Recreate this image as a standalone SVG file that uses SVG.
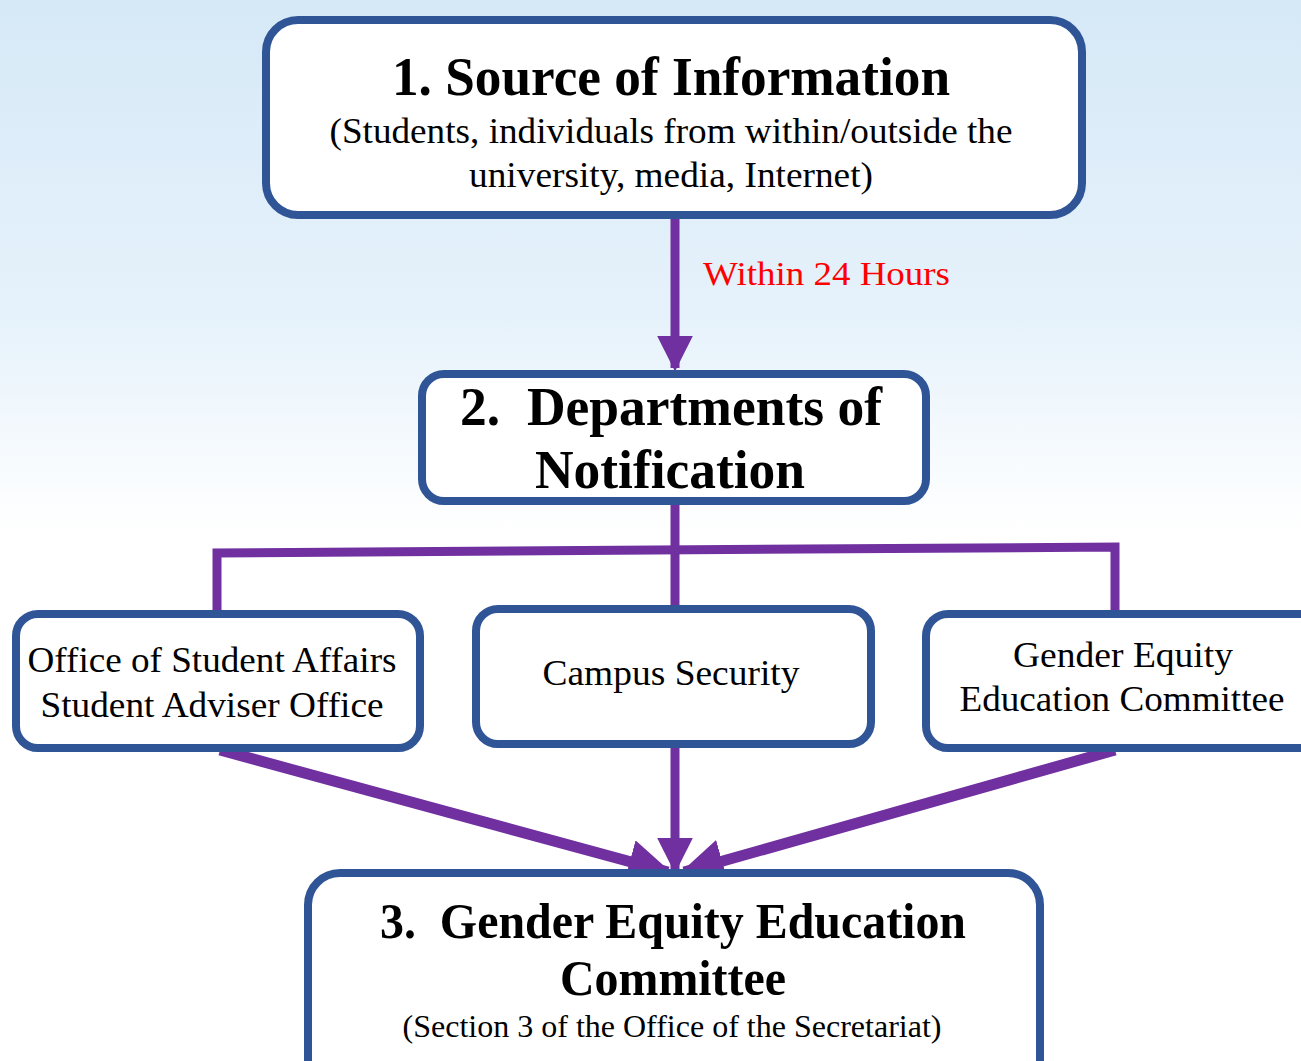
<svg xmlns="http://www.w3.org/2000/svg" width="1301" height="1061" viewBox="0 0 1301 1061">
<defs>
<linearGradient id="bg" x1="0" y1="0" x2="0" y2="1">
<stop offset="0" stop-color="#d6e9f7"/>
<stop offset="0.3" stop-color="#e6f2fb"/>
<stop offset="0.5" stop-color="#ffffff"/>
<stop offset="1" stop-color="#ffffff"/>
</linearGradient>
<marker id="ah" markerWidth="4" markerHeight="4" refX="3.6" refY="2" orient="auto" markerUnits="strokeWidth" viewBox="0 0 4 4">
<path d="M0,0 L4,2 L0,4 z" fill="#7030a0"/>
</marker>
</defs>
<style>
.box{fill:#ffffff;stroke:#2f5597;stroke-width:8}
.con{stroke:#7030a0;stroke-width:9;fill:none}
.thick{stroke-width:11}
.t{fill:#000;text-anchor:middle}
.b{font-weight:bold}
</style>
<rect width="1301" height="1061" fill="url(#bg)"/>
<g id="connectors">
<line class="con" x1="675" y1="218" x2="675" y2="368" marker-end="url(#ah)"/>
<line class="con" x1="675" y1="503" x2="675" y2="608"/>
<polyline class="con" points="217,612 217,553 1115,547 1115,612"/>
<line class="con thick" x1="220" y1="750" x2="668" y2="872" marker-end="url(#ah)"/>
<line class="con" x1="675" y1="746" x2="675" y2="870" marker-end="url(#ah)"/>
<line class="con thick" x1="1115" y1="750" x2="684" y2="872" marker-end="url(#ah)"/>
</g>
<g font-family="Liberation Serif, Times New Roman, serif">
<text x="703" y="285" fill="#ff0000" font-size="34" textLength="247" lengthAdjust="spacingAndGlyphs">Within 24 Hours</text>
<g id="node1">
<rect class="box" x="266" y="20" width="816" height="195" rx="32"/>
<text class="t b" x="671" y="95" font-size="54" textLength="558" lengthAdjust="spacingAndGlyphs">1. Source of Information</text>
<text class="t" x="671" y="143" font-size="35" textLength="683" lengthAdjust="spacingAndGlyphs">(Students, individuals from within/outside the</text>
<text class="t" x="671" y="187" font-size="35" textLength="404" lengthAdjust="spacingAndGlyphs">university, media, Internet)</text>
</g>
<g id="node2">
<rect class="box" x="422" y="374" width="504" height="127" rx="22"/>
<text class="t b" x="671" y="425" font-size="54" xml:space="preserve" textLength="422" lengthAdjust="spacingAndGlyphs">2.  Departments of</text>
<text class="t b" x="670" y="488" font-size="54" textLength="270" lengthAdjust="spacingAndGlyphs">Notification</text>
</g>
<g id="node3">
<rect class="box" x="16" y="614" width="404" height="134" rx="22"/>
<text class="t" x="212" y="672" font-size="35" textLength="369" lengthAdjust="spacingAndGlyphs">Office of Student Affairs</text>
<text class="t" x="212" y="717" font-size="35" textLength="343" lengthAdjust="spacingAndGlyphs">Student Adviser Office</text>
</g>
<g id="node4">
<rect class="box" x="476" y="609" width="395" height="135" rx="22"/>
<text class="t" x="671" y="685" font-size="35" textLength="257" lengthAdjust="spacingAndGlyphs">Campus Security</text>
</g>
<g id="node5">
<rect class="box" x="926" y="614" width="395" height="134" rx="22"/>
<text class="t" x="1123" y="667" font-size="35" textLength="220" lengthAdjust="spacingAndGlyphs">Gender Equity</text>
<text class="t" x="1122" y="711" font-size="35" textLength="325" lengthAdjust="spacingAndGlyphs">Education Committee</text>
</g>
<g id="node6">
<rect class="box" x="308" y="873" width="732" height="220" rx="32"/>
<text class="t b" x="673" y="938" font-size="50" xml:space="preserve" textLength="586" lengthAdjust="spacingAndGlyphs">3.  Gender Equity Education</text>
<text class="t b" x="673" y="995" font-size="50" textLength="226" lengthAdjust="spacingAndGlyphs">Committee</text>
<text class="t" x="672" y="1037" font-size="31" textLength="539" lengthAdjust="spacingAndGlyphs">(Section 3 of the Office of the Secretariat)</text>
</g>
</g>
</svg>
